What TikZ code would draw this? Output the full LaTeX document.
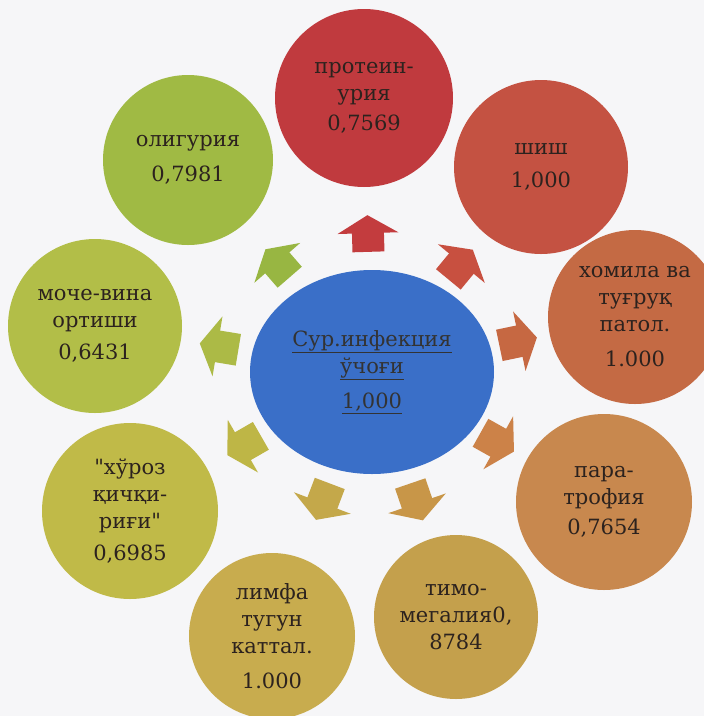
\documentclass[tikz,border=0pt]{standalone}
\usepackage{fontspec}
\setmainfont{DejaVu Serif}
\newfontfamily\bubfont{DejaVu Serif}
\usetikzlibrary{shapes.geometric,arrows.meta}

\definecolor{paper}{RGB}{246,246,248}
\definecolor{inkdark}{RGB}{44,34,30}
\definecolor{infekblue}{RGB}{58,111,200}
\definecolor{protcol}{RGB}{192,58,62}
\definecolor{shishcol}{RGB}{196,82,66}
\definecolor{homilacol}{RGB}{196,106,68}
\definecolor{paratrcol}{RGB}{200,136,78}
\definecolor{timocol}{RGB}{196,160,76}
\definecolor{limfacol}{RGB}{200,172,78}
\definecolor{hrozcol}{RGB}{192,186,72}
\definecolor{mochecol}{RGB}{178,190,72}
\definecolor{oligurcol}{RGB}{160,186,68}

\begin{document}
\begin{tikzpicture}[
    x=1pt,y=-1pt,
    bubtext/.style={
        font=\bubfont\fontsize{21}{27}\selectfont,
        text=inkdark,
        align=center
    },
    bubble/.style={
        circle,bubtext,
        inner sep=0pt,
        minimum size=174pt
    },
    blockarr/.style={line width=32pt,-{Triangle[length=18pt,width=60pt]}}
]
\fill[paper] (0,0) rectangle (704,716);
\useasboundingbox (0,0) rectangle (704,716);

% satellites
\node[bubble, fill=protcol, minimum size=178pt] (prot) at (364,98) {протеин-\\урия\\[3pt]0,7569};
\node[bubble, fill=shishcol] (shish) at (541,167) {шиш\\[6pt]1,000};
\node[bubble, fill=homilacol] (homila) at (635,317) {хомила ва\\туғруқ\\патол.\\[8pt]1.000};
\node[bubble, fill=paratrcol, minimum size=176pt] (paratr) at (604,502) {пара-\\трофия\\[3pt]0,7654};
\node[bubble, fill=timocol, minimum size=164pt] (timo) at (456,617) {тимо-\\мегалия0,\\8784};
\node[bubble, fill=limfacol, minimum size=166pt] (limfa) at (272,636) {лимфа\\тугун\\каттал.\\[8pt]1.000};
\node[bubble, fill=hrozcol, minimum size=176pt] (hroz) at (130,511) {\symbol{34}хўроз\\қичқи-\\риғи\symbol{34}\\[5pt]0,6985};
\node[bubble, fill=mochecol] (mochevina) at (95,326) {моче-вина\\ортиши\\[5pt]0,6431};
\node[bubble, fill=oligurcol, minimum size=170pt] (oligur) at (188,160) {олигурия\\[8pt]0,7981};

% centre
\node[ellipse, bubtext, fill=infekblue, text=black!80, inner sep=0pt,
      minimum width=244pt, minimum height=204pt] (infek) at (372,372)
      {\underline{Сур.инфекция}\\\underline{ўчоғи}\\[8pt]\underline{1,000}};

% arrows out of the centre
\foreach \sat/\col/\s/\e in {
    prot/{195,60,62}/18/28,
    shish/{200,80,64}/11/20,
    homila/{198,104,66}/9/13,
    paratr/{204,130,72}/8/15,
    timo/{200,150,72}/14/20,
    limfa/{196,168,74}/15/41,
    hroz/{190,182,70}/12/24,
    mochevina/{172,186,70}/14/19,
    oligur/{152,182,66}/16/33}
{
    \definecolor{arrcol}{RGB}{\col}
    \draw[blockarr, draw=arrcol, shorten <=\s pt, shorten >=\e pt] (infek) -- (\sat);
}
\end{tikzpicture}
\end{document}
